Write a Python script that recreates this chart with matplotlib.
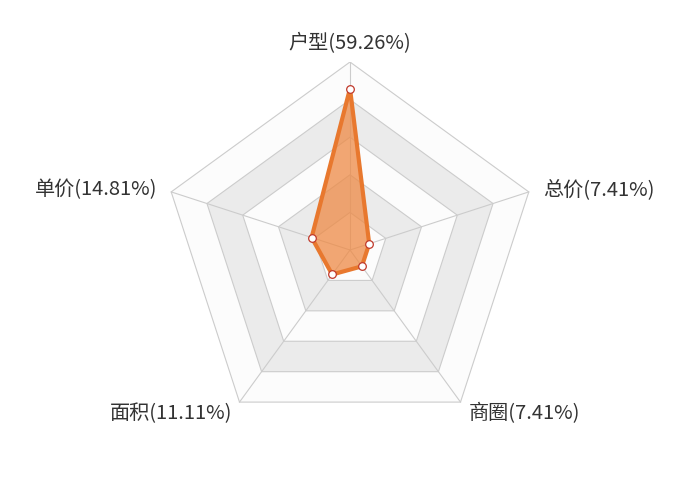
import numpy as np
import matplotlib
matplotlib.use("Agg")
import matplotlib.pyplot as plt
from matplotlib.patches import Polygon

plt.rcParams['font.family'] = ['Noto Sans CJK SC', 'DejaVu Sans']

categories = ['户型', '总价', '商圈', '面积', '单价']
values = [59.26, 7.41, 7.41, 11.11, 14.81]
max_value = 69.0
n_rings = 5

fig = plt.figure(figsize=(7, 5), dpi=100)
cx, cy, R = 350, 250, 188
ax = fig.add_axes([(cx - R) / 700, (500 - cy - R) / 500, 2 * R / 700, 2 * R / 500])
ax.set_xlim(-max_value, max_value)
ax.set_ylim(-max_value, max_value)
ax.set_aspect('equal')
ax.axis('off')

n = len(categories)
theta = np.arange(n) * 2 * np.pi / n
sx, sy = np.sin(theta), np.cos(theta)

# split areas (alternating from inside)
area_colors = ['#fcfcfc', '#ebebeb']
for i in range(n_rings, 0, -1):
    r = max_value * i / n_rings
    poly = Polygon(np.column_stack([r * sx, r * sy]), closed=True,
                   facecolor=area_colors[(i - 1) % 2], edgecolor='#cccccc', lw=0.8, zorder=1)
    ax.add_patch(poly)
# axis lines
for k in range(n):
    ax.plot([0, max_value * sx[k]], [0, max_value * sy[k]], color='#cccccc', lw=0.8, zorder=2)

v = np.array(values)
px, py = v * sx, v * sy
ax.add_patch(Polygon(np.column_stack([px, py]), closed=True, facecolor='#ee8a45', alpha=0.75,
                     edgecolor='none', zorder=3))
ax.plot(np.append(px, px[0]), np.append(py, py[0]), color='#e8782e', lw=3, zorder=4,
        solid_joinstyle='round')
ax.plot(px, py, 'o', ms=5.5, mfc='white', mec='#c0392b', mew=0.9, zorder=5)

labels = [f'{c}({val:.2f}%)' for c, val in zip(categories, values)]
fs = 14.5
tc = '#333333'
rl = max_value * 1.0
ax.annotate(labels[0], (0, rl), xytext=(0, 6), textcoords='offset points', ha='center', va='bottom',
            fontsize=fs, color=tc, annotation_clip=False)
ax.annotate(labels[1], (rl * sx[1], rl * sy[1]), xytext=(10, 2), textcoords='offset points', ha='left', va='center',
            fontsize=fs, color=tc, annotation_clip=False)
ax.annotate(labels[2], (rl * sx[2], rl * sy[2]), xytext=(6, -1), textcoords='offset points', ha='left', va='top',
            fontsize=fs, color=tc, annotation_clip=False)
ax.annotate(labels[3], (rl * sx[3], rl * sy[3]), xytext=(-5, -1), textcoords='offset points', ha='right', va='top',
            fontsize=fs, color=tc, annotation_clip=False)
ax.annotate(labels[4], (rl * sx[4], rl * sy[4]), xytext=(-10, 2), textcoords='offset points', ha='right', va='center',
            fontsize=fs, color=tc, annotation_clip=False)

fig.savefig('out.png', dpi=100, facecolor='white')
